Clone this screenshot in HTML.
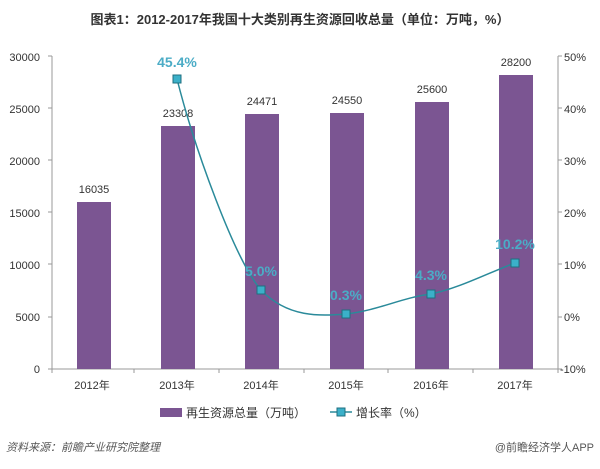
<!DOCTYPE html>
<html><head><meta charset="utf-8"><style>
body{margin:0;background:#fff;}
svg text{font-family:"Liberation Sans","Noto Sans CJK SC",sans-serif;}
</style></head><body>
<svg width="600" height="464" xmlns="http://www.w3.org/2000/svg">
<rect width="600" height="464" fill="#fff"/>
<text x="300" y="24" text-anchor="middle" font-size="13" font-weight="bold" fill="#333">图表1：2012-2017年我国十大类别再生资源回收总量（单位：万吨，%）</text>
<g font-size="11" fill="#333" text-anchor="end">
<text x="40" y="61">30000</text><text x="40" y="113">25000</text><text x="40" y="165">20000</text>
<text x="40" y="217">15000</text><text x="40" y="269">10000</text><text x="40" y="321">5000</text><text x="40" y="373">0</text>
</g>
<g font-size="11" fill="#333">
<text x="564" y="61">50%</text><text x="564" y="113">40%</text><text x="564" y="165">30%</text>
<text x="564" y="217">20%</text><text x="564" y="269">10%</text><text x="564" y="321">0%</text><text x="560" y="373">-10%</text>
</g>
<g stroke="#999" stroke-width="1" fill="none">
<path d="M52 56V369M48 56H52M48 108H52M48 160H52M48 212H52M48 264H52M48 317H52M48 369H52"/>
<path d="M558 56V369M558 56H562M558 108H562M558 160H562M558 212H562M558 264H562M558 317H562M558 369H562"/>
<path d="M52 369H558M52 369V373M134 369V373M219 369V373M304 369V373M388 369V373M473 369V373M558 369V373"/>
</g>
<g fill="#7b5592">
<rect x="77" y="202" width="34" height="167"/>
<rect x="161" y="126" width="34" height="243"/>
<rect x="245" y="114" width="34" height="255"/>
<rect x="330" y="113" width="34" height="256"/>
<rect x="415" y="102" width="34" height="267"/>
<rect x="499" y="75" width="34" height="294"/>
</g>
<g font-size="11" fill="#333" text-anchor="middle">
<text x="94" y="193">16035</text><text x="178" y="117">23308</text><text x="262" y="105">24471</text>
<text x="347" y="104">24550</text><text x="432" y="93">25600</text><text x="516" y="66">28200</text>
</g>
<g font-size="11" fill="#333" text-anchor="middle">
<text x="92" y="389">2012年</text><text x="177" y="389">2013年</text><text x="261" y="389">2014年</text>
<text x="346" y="389">2015年</text><text x="431" y="389">2016年</text><text x="515" y="389">2017年</text>
</g>
<path d="M177 79 C195 150,235 260,261 290 C288 318,320 316,346 314 C380 310,400 298,431 294 C460 288,490 272,515 263" stroke="#2a8a9a" stroke-width="1.5" fill="none"/>
<g fill="#3bb0c9" stroke="#1f6f80" stroke-width="1">
<rect x="173" y="75" width="8" height="8"/><rect x="257" y="286" width="8" height="8"/>
<rect x="342" y="310" width="8" height="8"/><rect x="427" y="290" width="8" height="8"/>
<rect x="511" y="259" width="8" height="8"/>
</g>
<g font-size="14" font-weight="bold" fill="#4bacc6" text-anchor="middle">
<text x="177" y="67">45.4%</text><text x="261" y="276">5.0%</text><text x="346" y="300">0.3%</text>
<text x="431" y="280">4.3%</text><text x="515" y="249">10.2%</text>
</g>
<rect x="160" y="408" width="22" height="9" fill="#7b5592"/>
<text x="186" y="417" font-size="12" fill="#333">再生资源总量（万吨）</text>
<path d="M330 412H352" stroke="#2a8a9a" stroke-width="1.5"/>
<rect x="337" y="408" width="8" height="8" fill="#3bb0c9" stroke="#1f6f80"/>
<text x="356" y="417" font-size="12" fill="#333">增长率（%）</text>
<text x="6" y="451" font-size="11" font-style="italic" fill="#555">资料来源：前瞻产业研究院整理</text>
<text x="594" y="451" font-size="11" fill="#555" text-anchor="end">@前瞻经济学人APP</text>
</svg>
</body></html>
